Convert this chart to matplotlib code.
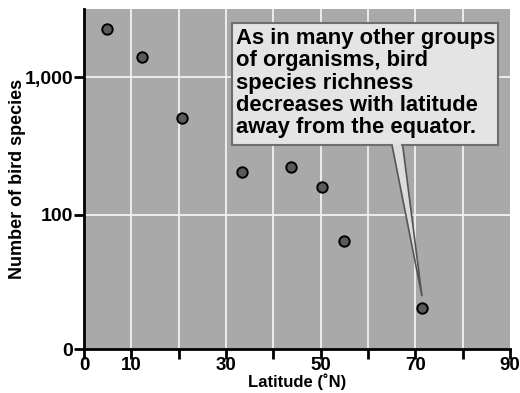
import numpy as np
import matplotlib
matplotlib.use("Agg")
import matplotlib.pyplot as plt
from matplotlib.patches import Rectangle, Polygon

plt.rcParams['font.family'] = ['Liberation Sans', 'DejaVu Sans']
plt.rcParams['font.weight'] = 'bold'

# values
latitude = [4.9, 12.2, 20.8, 33.3, 43.7, 50.3, 55.0, 71.4]
species = [2245, 1390, 505, 204, 224, 160, 64, 21]

x_ticks = [0, 10, 20, 30, 40, 50, 60, 70, 80, 90]
x_labels = ['0', '10', '', '30', '', '50', '', '70', '', '90']
y_labels = ['0', '100', '1,000']
note = ("As in many other groups\nof organisms, bird\nspecies richness\n"
        "decreases with latitude\naway from the equator.")

W, H = 520, 393
fig = plt.figure(figsize=(5.2, 3.93), dpi=100)
ax = fig.add_axes([84 / W, 1 - 349 / H, 426 / W, 340 / H])

ymin, ymax = 10.6, 3120
ax.set_yscale('log')
ax.set_xlim(0, 90)
ax.set_ylim(ymin, ymax)
ax.set_facecolor('#a9a9a9')

for xv in x_ticks[1:-1]:
    ax.axvline(xv, color='#f2f2f2', lw=1.3, zorder=1)
for yv in [100, 1000]:
    ax.axhline(yv, color='#f2f2f2', lw=1.3, zorder=1)

ax.plot(latitude, species, 'o', ms=7.5, mfc='#5a5a5a', mec='black',
        mew=1.4, zorder=5)

ax.set_xticks(x_ticks)
ax.set_xticklabels(x_labels)
ax.set_yticks([ymin, 100, 1000])
ax.set_yticklabels(y_labels)
ax.yaxis.set_minor_locator(matplotlib.ticker.NullLocator())
ax.tick_params(axis='both', length=7, width=2, labelsize=14, pad=1)
ax.tick_params(axis='x', pad=-1, labelsize=13.5)

for s in ['top', 'right']:
    ax.spines[s].set_visible(False)
for s in ['left', 'bottom']:
    ax.spines[s].set_linewidth(2)

ax.set_xlabel('Latitude (˚N)', fontsize=12, fontweight='bold', labelpad=-1)
ax.set_ylabel('Number of bird species', fontsize=13, fontweight='bold',
              labelpad=-1)

# callout tail pointing at the northernmost point
tip = ax.transData.transform((latitude[-1], species[-1] * 1.22))
tip = fig.transFigure.inverted().transform(tip)
tail = Polygon([(391 / W, 1 - 140 / H), (402 / W, 1 - 140 / H), tuple(tip)],
               closed=True, transform=fig.transFigure, facecolor='#dcdcdc',
               edgecolor='#555555', lw=1.2, zorder=6)
fig.add_artist(tail)

box = Rectangle((232 / W, 1 - 145 / H), 266 / W, 122 / H,
                transform=fig.transFigure, facecolor='#e4e4e4',
                edgecolor='#6e6e6e', lw=1.5, zorder=7)
fig.add_artist(box)
# hide the tail outline at the box edge
fig.add_artist(Rectangle((392.5 / W, 1 - 146 / H), 8.5 / W, 3 / H,
                         transform=fig.transFigure, facecolor='#e0e0e0',
                         edgecolor='none', zorder=8))

fig.text(236 / W, 1 - 28 / H, note, fontsize=15.8, fontweight='bold',
         va='top', ha='left', linespacing=1.08, zorder=9)

fig.savefig('out.png', dpi=100)
